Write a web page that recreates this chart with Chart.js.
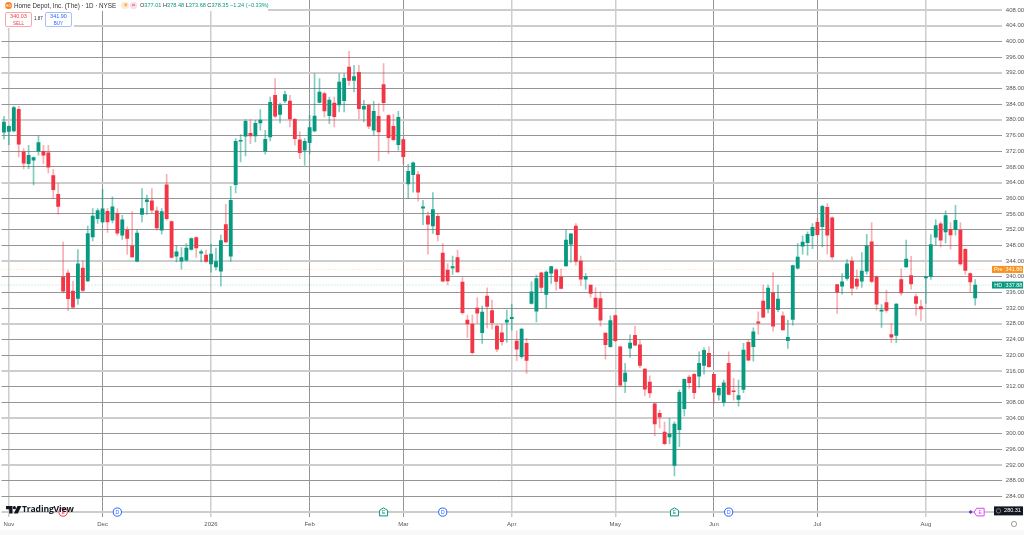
<!DOCTYPE html>
<html>
<head>
<meta charset="utf-8">
<title>Home Depot, Inc. (The) - 1D - NYSE</title>
<script src="https://cdn.jsdelivr.net/npm/chart.js@4"></script>
<style>
    html, body { margin: 0; padding: 0; background: #fff; overflow: hidden; }
    body { width: 1024px; height: 535px; position: relative; font-family: "Liberation Sans", sans-serif; }
    canvas { position: absolute; left: 0; top: 0; }
    .strip { position: absolute; background: #fff; }
    .abs { position: absolute; white-space: nowrap; }
    .box { position: absolute; top: 12px; width: 25px; height: 13px; border-radius: 2px; background: #fff; text-align: center; font-size: 5.5px; line-height: 6.5px; }
    .ohlc span { color: #089981; margin-right: 1.5px; }
    #footer { position: absolute; left: 0; top: 530px; width: 1024px; height: 5px; background: #f8f8f8; }
</style>
</head>
<body>
<canvas id="chart" width="1024" height="535"></canvas>

<!-- header hides the grid behind it, like the original legend does -->
<div class="strip" style="left:0;top:0;width:268px;height:11px"></div>
<div class="strip" style="left:0;top:11px;width:74px;height:17px"></div>
<div class="abs" style="left:5px;top:2px;width:7px;height:7px;border-radius:50%;background:#f58220;color:#fff;font-size:4px;line-height:7px;text-align:center">HD</div>
<div class="abs" style="left:14px;top:2px;font-size:6.3px;line-height:7px;color:#333">Home Depot, Inc. (The) · 1D · NYSE</div>
<div class="abs" style="left:121px;top:2px;width:8px;height:7px;border-radius:3px;background:#fdebd3;color:#f7931e;font-size:6px;line-height:7px;text-align:center">☀</div>
<div class="abs" style="left:130px;top:2px;width:7px;height:7px;border-radius:3px;background:#fbdce8;color:#e0457b;font-size:6px;line-height:7px;text-align:center">=</div>
<div class="abs ohlc" style="left:140px;top:2px;font-size:5.6px;line-height:7px;color:#333">O<span>377.01</span>H<span>378.48</span>L<span>373.68</span>C<span>378.35 −1.24 (−0.33%)</span></div>
<div class="box" style="left:5px;border:1px solid #f7a8ae;color:#f23645">340.03<br><span style="font-size:4.5px">SELL</span></div>
<div class="abs" style="left:34px;top:16px;font-size:4.5px;line-height:6px;color:#333">1.87</div>
<div class="box" style="left:45px;border:1px solid #a8c0fa;color:#2962ff">341.90<br><span style="font-size:4.5px">BUY</span></div>

<!-- logo -->
<svg class="abs" style="left:6px;top:506px" width="16" height="8" viewBox="0 0 16 8">
    <path d="M0 0H6.5V7.5H3.2V3.2H0Z" fill="#131722"/>
    <circle cx="8.4" cy="1.7" r="1.6" fill="#131722"/>
    <path d="M11.5 0H15.5L11.8 7.5H7.8Z" fill="#131722"/>
</svg>
<div class="abs" style="left:22px;top:503.5px;font-size:8.6px;line-height:11px;font-weight:bold;color:#131722;letter-spacing:-0.15px;font-family:'Open Sans',sans-serif">TradingView</div>
<div id="footer"></div>

<script>
// Home Depot daily candles
const opens = [
    376.82, 377.01, 377.16, 382.68, 371.81, 368.85, 369.69, 371.98, 371.98, 371.56,
    365.79, 361.03, 339.89, 340.91, 336.33, 334.46, 342.19, 338.96, 350.17, 354.83,
    353.98, 356.70, 354.41, 356.19, 350.59, 351.86, 347.79, 343.97, 355.85, 359.16,
    359.33, 356.79, 351.86, 363.41, 354.07, 345.24, 343.97, 344.22, 346.94, 350.00,
    346.01, 345.50, 343.29, 342.53, 341.42, 353.31, 345.24, 363.49, 374.53, 375.80,
    376.57, 375.89, 379.20, 372.07, 375.63, 386.24, 381.40, 384.80, 384.80, 380.13,
    374.87, 372.24, 374.19, 377.16, 384.46, 386.67, 381.07, 384.29, 383.78, 384.88,
    393.46, 390.06, 392.10, 382.68, 383.70, 377.33, 380.90, 388.96, 381.07, 378.35,
    373.68, 374.95, 363.66, 366.04, 366.04, 357.46, 355.51, 352.96, 355.42, 346.00,
    341.67, 342.26, 344.90, 338.61, 328.94, 327.92, 332.00, 325.71, 335.05, 331.40,
    327.41, 325.71, 328.43, 329.28, 323.59, 319.60, 323.00, 333.18, 331.23, 340.99,
    335.47, 340.91, 341.76, 339.89, 342.77, 348.29, 352.88, 343.96, 339.38, 337.85,
    334.54, 334.45, 325.63, 322.15, 330.12, 322.15, 313.32, 321.81, 325.03, 322.66,
    316.46, 313.15, 307.63, 305.17, 300.41, 299.14, 291.92, 301.01, 306.36, 314.42,
    315.10, 314.68, 317.39, 320.45, 315.10, 309.84, 307.97, 317.90, 310.94, 308.73,
    311.28, 323.25, 322.14, 328.51, 333.77, 331.82, 335.89, 331.57, 330.04, 323.67,
    329.10, 342.18, 347.78, 348.71, 350.49, 353.89, 352.79, 357.71, 354.99, 338.02,
    337.59, 339.54, 343.96, 339.37, 338.86, 341.41, 348.88, 339.88, 331.23, 333.43,
    325.28, 325.03, 339.29, 342.52, 340.31, 334.96, 332.41, 339.71, 340.05, 350.07,
    353.47, 351.43, 352.11, 352.02, 351.85, 347.01, 340.82, 334.62
];
const highs = [
    380.90, 378.48, 383.44, 383.44, 372.66, 373.51, 370.54, 375.89, 373.51, 373.51,
    367.31, 363.75, 348.81, 341.68, 338.88, 346.94, 344.05, 352.88, 357.38, 357.38,
    362.22, 357.38, 360.35, 357.38, 355.68, 352.71, 356.62, 351.86, 362.47, 360.78,
    362.47, 357.81, 357.38, 366.12, 354.24, 347.87, 347.45, 348.47, 349.91, 350.17,
    346.77, 346.77, 348.30, 347.28, 350.59, 358.48, 363.07, 375.21, 376.23, 380.05,
    380.05, 379.88, 382.59, 377.33, 385.82, 390.49, 384.29, 387.35, 386.24, 380.30,
    376.91, 375.21, 381.15, 391.76, 390.49, 387.09, 385.82, 385.82, 391.76, 391.76,
    397.45, 393.88, 393.88, 384.97, 383.87, 384.71, 384.12, 394.31, 381.40, 381.40,
    382.17, 375.12, 368.67, 369.27, 366.89, 359.50, 356.53, 361.45, 356.10, 348.46,
    343.37, 345.24, 346.76, 339.80, 330.21, 330.21, 334.71, 332.50, 337.17, 334.03,
    327.66, 327.83, 331.48, 333.01, 326.22, 326.81, 324.27, 338.70, 340.40, 341.16,
    341.50, 342.69, 342.09, 341.92, 352.03, 351.01, 353.55, 345.24, 340.82, 338.02,
    337.26, 336.15, 325.71, 330.04, 330.21, 322.32, 317.90, 325.20, 327.41, 323.84,
    316.63, 314.76, 307.71, 306.02, 302.96, 303.90, 303.04, 311.11, 314.00, 314.93,
    315.35, 320.87, 321.89, 322.15, 315.18, 312.21, 313.66, 320.87, 314.08, 313.66,
    322.99, 323.84, 326.98, 331.06, 337.85, 337.85, 341.07, 337.85, 331.06, 328.93,
    342.94, 348.46, 350.41, 351.43, 353.55, 354.82, 358.22, 358.64, 355.25, 338.02,
    340.82, 344.38, 345.06, 341.67, 346.17, 350.83, 353.81, 340.14, 332.92, 336.57,
    328.08, 333.18, 341.92, 349.31, 345.23, 335.55, 334.03, 340.14, 350.75, 354.57,
    353.98, 356.78, 353.81, 358.22, 353.81, 347.18, 340.99, 339.29
];
const lows = [
    375.04, 373.68, 376.91, 370.54, 367.48, 367.57, 363.41, 370.96, 368.84, 366.46,
    359.93, 355.94, 335.90, 331.32, 331.91, 332.93, 336.16, 338.71, 349.15, 353.56,
    353.73, 351.27, 353.73, 350.59, 349.49, 345.67, 344.90, 343.80, 353.98, 355.85,
    356.28, 351.86, 350.84, 354.41, 344.82, 343.80, 341.93, 343.97, 346.77, 344.90,
    343.80, 343.63, 341.17, 341.68, 337.60, 348.64, 343.88, 361.37, 369.27, 370.79,
    373.93, 374.36, 377.33, 371.22, 374.61, 380.56, 379.20, 384.38, 378.18, 373.51,
    370.10, 368.42, 371.39, 376.91, 384.29, 380.73, 379.03, 378.18, 382.00, 382.00,
    388.79, 387.09, 380.30, 379.45, 377.75, 376.06, 369.52, 382.17, 371.39, 374.61,
    372.24, 368.84, 359.93, 361.54, 359.25, 353.30, 345.74, 351.01, 349.14, 338.70,
    337.93, 340.57, 341.08, 330.38, 324.52, 320.28, 328.09, 323.00, 326.98, 326.64,
    320.87, 322.57, 323.25, 326.39, 318.58, 319.17, 315.35, 333.01, 328.51, 335.98,
    331.91, 338.27, 336.58, 336.83, 342.69, 343.62, 342.94, 337.76, 336.83, 334.71,
    331.91, 327.41, 319.00, 321.98, 323.42, 312.21, 310.43, 319.43, 322.40, 316.80,
    309.67, 309.16, 299.40, 301.43, 297.10, 297.36, 289.21, 296.68, 304.49, 311.53,
    308.90, 311.79, 315.18, 316.88, 307.71, 308.56, 307.03, 309.84, 308.56, 307.03,
    310.43, 318.58, 318.49, 325.37, 329.53, 330.80, 326.13, 331.06, 326.39, 321.72,
    327.66, 341.92, 345.74, 345.49, 347.18, 350.58, 347.61, 345.74, 344.47, 330.63,
    335.55, 339.12, 335.30, 336.83, 337.25, 340.65, 338.44, 331.48, 327.07, 330.97,
    323.16, 323.16, 335.30, 342.35, 336.83, 330.21, 328.76, 333.18, 339.29, 348.03,
    347.61, 348.63, 347.01, 350.58, 342.94, 340.56, 335.98, 332.75
];
const closes = [
    379.45, 378.35, 383.10, 373.76, 368.93, 370.96, 370.37, 374.19, 370.96, 367.91,
    362.22, 357.89, 336.33, 334.38, 332.25, 343.29, 336.50, 351.01, 355.43, 356.87,
    357.30, 353.98, 357.81, 351.10, 354.49, 349.74, 345.07, 351.10, 357.38, 359.59,
    356.96, 352.46, 356.62, 354.83, 344.90, 346.35, 344.90, 347.28, 349.74, 347.36,
    346.35, 343.88, 345.75, 343.88, 349.23, 348.89, 359.50, 374.53, 374.78, 379.62,
    375.89, 379.11, 379.96, 375.04, 384.46, 380.90, 383.78, 386.41, 380.22, 375.21,
    371.64, 374.53, 378.01, 380.98, 387.09, 382.25, 385.05, 380.81, 389.64, 390.57,
    390.06, 391.00, 382.85, 383.44, 378.35, 382.17, 376.91, 384.38, 375.46, 374.95,
    380.64, 370.62, 366.89, 369.01, 361.54, 357.80, 353.38, 357.12, 350.75, 338.87,
    338.95, 342.60, 341.25, 330.81, 328.00, 320.62, 330.72, 330.97, 332.42, 328.26,
    321.55, 323.42, 328.94, 329.62, 321.55, 326.65, 318.67, 336.15, 339.55, 337.26,
    341.16, 342.60, 338.78, 337.00, 349.31, 350.92, 343.88, 339.38, 340.06, 335.73,
    332.16, 328.94, 322.66, 328.85, 323.67, 312.38, 315.44, 323.08, 322.57, 317.39,
    311.36, 310.35, 302.45, 304.23, 297.44, 299.82, 302.45, 310.52, 313.83, 312.98,
    310.43, 317.90, 321.21, 317.05, 310.60, 311.53, 312.98, 310.01, 310.69, 309.67,
    321.29, 318.75, 325.96, 328.17, 329.70, 337.08, 327.41, 334.28, 326.47, 324.52,
    342.86, 344.98, 348.80, 350.83, 352.62, 350.75, 357.97, 350.58, 345.06, 336.06,
    338.69, 343.28, 337.08, 337.59, 341.41, 347.86, 338.78, 333.01, 331.48, 331.39,
    324.60, 333.01, 335.89, 344.47, 338.19, 333.18, 331.82, 339.97, 348.20, 353.04,
    349.31, 355.59, 350.67, 354.40, 343.28, 341.58, 338.69, 337.88
];

// axis labels
const monthIndexes = [1, 20, 42, 62, 81, 103, 124, 144, 165, 187];
const monthNames = ['Nov', 'Dec', '2026', 'Feb', 'Mar', 'Apr', 'May', 'Jun', 'Jul', 'Aug'];
const softMonths = ['Nov', '2026', 'Apr', 'May', 'Aug'];
const softPrices = [408, 404, 392, 380, 364, 344, 328, 316, 304, 292, 280];
const slotCount = 203; // candles plus the empty space before the price axis

// price tags and dotted levels
const tagNames = ['Pre', 'HD'];
const tagValues = [341.86, 337.88];
const tagColors = ['#f7931e', '#089981'];
const priceScaleEnd = 280.31;

// event badges on the time axis
const eventIndexes = [12, 23, 77, 89, 136, 147, 198];
const eventLetters = ['E', 'D', 'E', 'D', 'E', 'D', 'E'];
const eventShapes = ['circle', 'circle', 'house', 'circle', 'house', 'circle', 'flag'];
const eventColors = ['#f23645', '#2962ff', '#089981', '#2962ff', '#089981', '#2962ff', '#e040fb'];

const UP = '#089981';
const DOWN = '#f23645';
const UP_WICK = 'rgba(8, 153, 129, 0.5)';
const DOWN_WICK = 'rgba(242, 54, 69, 0.4)';
const GRID = '#959595';
const GRID_SOFT = '#cdcdcd';

const labels = Array.from({ length: slotCount }, (_, i) => {
    const m = monthIndexes.indexOf(i);
    return m >= 0 ? monthNames[m] : '';
});

const bodies = opens.map((o, i) => [o, closes[i]]);
const wicks = lows.map((l, i) => [l, highs[i]]);
const isUp = (i) => closes[i] >= opens[i];

function drawTag(ctx, y, name, value, color) {
    ctx.fillStyle = color;
    ctx.fillRect(992, y - 3.5, 31, 7);
    ctx.fillStyle = 'rgba(255,255,255,0.2)';
    ctx.fillRect(1004.5, y - 3.5, 0.5, 7);
    ctx.fillStyle = '#fff';
    ctx.font = '5.5px "Liberation Sans"';
    ctx.textBaseline = 'middle';
    ctx.textAlign = 'center';
    ctx.fillText(name, 998.2, y);
    ctx.fillText(value, 1014, y);
}

function badgePath(ctx, shape, px, py) {
    ctx.beginPath();
    if (shape === 'house') {
        ctx.moveTo(px, py - 4.2);
        ctx.lineTo(px + 4, py - 1.8);
        ctx.lineTo(px + 4, py + 3.8);
        ctx.lineTo(px - 4, py + 3.8);
        ctx.lineTo(px - 4, py - 1.8);
        ctx.closePath();
    } else if (shape === 'flag') {
        ctx.moveTo(px - 6, py);
        ctx.lineTo(px - 3.5, py - 3.8);
        ctx.lineTo(px + 4, py - 3.8);
        ctx.lineTo(px + 4, py + 3.8);
        ctx.lineTo(px - 3.5, py + 3.8);
        ctx.closePath();
    } else {
        ctx.arc(px, py, 4.1, 0, Math.PI * 2);
    }
}

// dotted levels, price tags and event badges, all placed through the scales
const overlays = {
    id: 'overlays',
    beforeDatasetsDraw(chart) {
        const { ctx, scales: { y }, chartArea } = chart;
        ctx.save();
        ctx.lineWidth = 1;
        ctx.setLineDash([1, 2]);
        tagValues.forEach((v, i) => {
            ctx.strokeStyle = tagColors[i] + '55';
            ctx.beginPath();
            ctx.moveTo(chartArea.left, y.getPixelForValue(v));
            ctx.lineTo(chartArea.right, y.getPixelForValue(v));
            ctx.stroke();
        });
        ctx.restore();
    },
    afterDraw(chart) {
        const { ctx, scales: { x, y } } = chart;
        ctx.save();
        tagValues.forEach((v, i) => {
            drawTag(ctx, y.getPixelForValue(v), tagNames[i], v.toFixed(2), tagColors[i]);
        });

        // black tag at the bottom of the price axis
        const endY = y.getPixelForValue(priceScaleEnd);
        ctx.fillStyle = '#131722';
        ctx.fillRect(994, endY - 4.5, 29, 9);
        ctx.strokeStyle = '#bbb';
        ctx.lineWidth = 0.6;
        ctx.beginPath();
        ctx.arc(998.5, endY, 2.2, 0, Math.PI * 2);
        ctx.stroke();
        ctx.fillStyle = '#fff';
        ctx.font = '5.5px "Liberation Sans"';
        ctx.textAlign = 'center';
        ctx.textBaseline = 'middle';
        ctx.fillText(priceScaleEnd.toFixed(2), 1012.5, endY);

        eventIndexes.forEach((idx, i) => {
            const px = x.getPixelForValue(idx);
            const py = y.getPixelForValue(280);
            ctx.fillStyle = '#fff';
            ctx.strokeStyle = eventColors[i];
            ctx.lineWidth = 1;
            badgePath(ctx, eventShapes[i], px, py);
            ctx.fill();
            ctx.stroke();
            ctx.fillStyle = eventColors[i];
            ctx.font = '5px "Liberation Sans"';
            ctx.fillText(eventLetters[i], px, py + 0.3);
        });

        // small diamond in front of the last badge
        const diamondX = x.getPixelForValue(eventIndexes[eventIndexes.length - 1]) - 9.5;
        const diamondY = y.getPixelForValue(280);
        ctx.fillStyle = '#5b3cc4';
        ctx.beginPath();
        ctx.moveTo(diamondX, diamondY - 2);
        ctx.lineTo(diamondX + 2, diamondY);
        ctx.lineTo(diamondX, diamondY + 2);
        ctx.lineTo(diamondX - 2, diamondY);
        ctx.closePath();
        ctx.fill();

        // settings circle below the price axis
        ctx.strokeStyle = '#777';
        ctx.lineWidth = 0.7;
        ctx.beginPath();
        ctx.arc(1014, 524, 2.6, 0, Math.PI * 2);
        ctx.stroke();
        ctx.restore();
    }
};

const chart = new Chart(document.getElementById('chart').getContext('2d'), {
    type: 'bar',
    data: {
        labels: labels,
        datasets: [
            {
                label: 'Body',
                data: bodies,
                grouped: false,
                barThickness: 3.2,
                backgroundColor: (c) => (isUp(c.dataIndex) ? UP : DOWN)
            },
            {
                label: 'Wick',
                data: wicks,
                grouped: false,
                barThickness: 1,
                backgroundColor: (c) => (isUp(c.dataIndex) ? UP_WICK : DOWN_WICK)
            }
        ]
    },
    options: {
        responsive: false,
        animation: false,
        layout: { padding: { left: 1.5, right: 0, top: 0, bottom: 0 } },
        plugins: {
            legend: { display: false },
            tooltip: { enabled: false }
        },
        scales: {
            x: {
                offset: true,
                border: { display: false },
                grid: {
                    offset: false,
                    drawTicks: false,
                    color: (c) => (softMonths.includes(labels[c.index]) ? GRID_SOFT : GRID),
                    lineWidth: (c) => {
                        if (labels[c.index] === '') return 0;
                        return softMonths.includes(labels[c.index]) ? 1.5 : 1;
                    }
                },
                ticks: {
                    autoSkip: false,
                    maxRotation: 0,
                    padding: 4,
                    color: '#555',
                    font: { family: 'Liberation Sans', size: 6 }
                },
                afterFit: (scale) => {
                    scale.height = 18;
                    scale.paddingLeft = 0;
                    scale.paddingRight = 0;
                }
            },
            y: {
                position: 'right',
                min: 278.75,
                max: 410.54,
                border: { display: false },
                grid: {
                    drawTicks: false,
                    color: (c) => (softPrices.includes(c.tick.value) ? GRID_SOFT : GRID),
                    lineWidth: (c) => (softPrices.includes(c.tick.value) ? 2 : 1)
                },
                ticks: {
                    stepSize: 4,
                    includeBounds: false,
                    autoSkip: false,
                    maxTicksLimit: 60,
                    padding: 3.5,
                    color: '#555',
                    font: { family: 'Liberation Sans', size: 6 },
                    callback: (v) => (v === 280 ? '' : v.toFixed(2))
                },
                afterFit: (scale) => {
                    scale.width = 21.7;
                    scale.paddingTop = 0;
                    scale.paddingBottom = 0;
                }
            }
        }
    },
    plugins: [overlays]
});
</script>
</body>
</html>
